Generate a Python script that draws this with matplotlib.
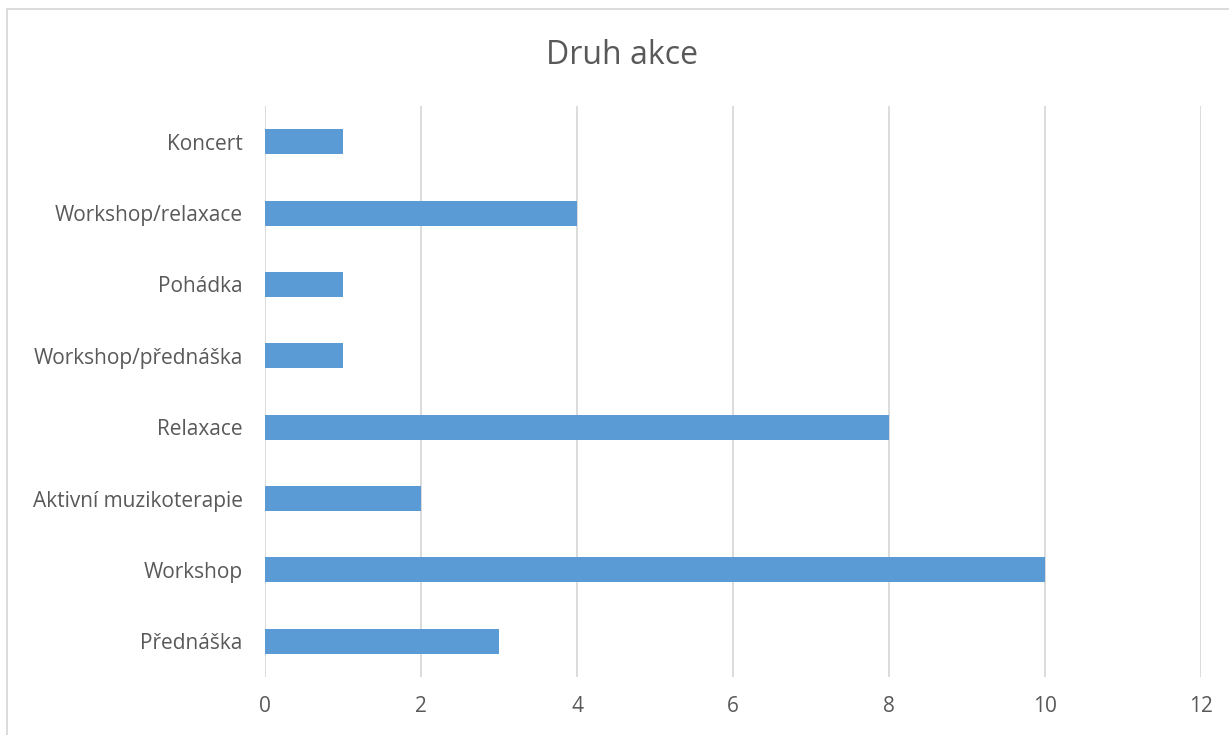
import matplotlib
matplotlib.use("Agg")
import matplotlib.pyplot as plt
from matplotlib.patches import Rectangle

# data (bottom to top as drawn)
categories = ["Přednáška", "Workshop", "Aktivní muzikoterapie", "Relaxace",
              "Workshop/přednáška", "Pohádka", "Workshop/relaxace", "Koncert"]
counts = [3, 10, 2, 8, 1, 1, 4, 1]
x_ticks = [0, 2, 4, 6, 8, 10, 12]

plt.rcParams['font.family'] = ['Open Sans', 'DejaVu Sans']
text_color = '#595959'
grid_color = '#d9d9d9'
bar_color = '#5b9bd5'

fig = plt.figure(figsize=(12.29, 7.35), dpi=100)
ax = fig.add_axes([265 / 1229, 1 - 677 / 735, (1201 - 265) / 1229, (677 - 106) / 735])

ax.barh(range(len(categories)), counts, height=0.35, color=bar_color, zorder=3)

ax.set_xlim(0, 12)
ax.set_ylim(-0.5, len(categories) - 0.5)
ax.set_xticks(x_ticks)
ax.set_yticks(range(len(categories)))
ax.set_yticklabels(categories)
ax.tick_params(axis='both', length=0, labelsize=15, colors=text_color)
ax.tick_params(axis='x', pad=14)
ax.tick_params(axis='y', pad=16)
ax.grid(axis='x', color=grid_color, linewidth=1.3, zorder=0)
for s in ax.spines.values():
    s.set_visible(False)

fig.text(622 / 1229, 1 - 55 / 735, "Druh akce", ha='center', va='center',
         fontsize=23, color=text_color)

# chart border
fig.patches.append(Rectangle((7 / 1229, -0.01), 1.0, 1 - 9 / 735 + 0.01,
                             transform=fig.transFigure, fill=False,
                             edgecolor='#d9d9d9', linewidth=1.3))

fig.savefig("out.png", dpi=100)
